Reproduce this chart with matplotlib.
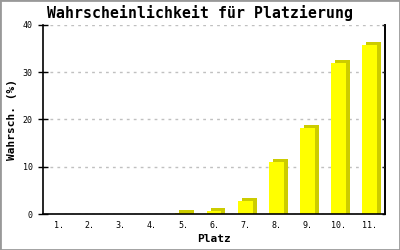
import matplotlib
matplotlib.use("Agg")
import matplotlib.pyplot as plt
import matplotlib.transforms as mtransforms
from matplotlib.patches import Rectangle

# data
places = ["1.", "2.", "3.", "4.", "5.", "6.", "7.", "8.", "9.", "10.", "11."]
probs = [0, 0, 0, 0, 0.2, 0.6, 2.8, 11.0, 18.2, 32.0, 35.8]
y_ticks = [0, 10, 20, 30, 40]

title = "Wahrscheinlichkeit für Platzierung"
y_label = "Wahrsch. (%)"
x_label = "Platz"

front_col = "#ffff00"
side_col = "#cccc00"
mono = "DejaVu Sans Mono"

fig = plt.figure(figsize=(4, 2.5), dpi=100)
ax = fig.add_axes([0.1075, 0.144, 0.855, 0.756])

x = list(range(1, len(places) + 1))
w = 0.48

# 3d look: a darker copy shifted right/up behind the front bar
shift = ax.transData + mtransforms.ScaledTranslation(4 / 100, 3 / 100, fig.dpi_scale_trans)
low = 0.64  # about 3 px, so the side reaches the axis
for xi, v in zip(x, probs):
    if v <= 0:
        continue
    ax.bar(xi, v + low, bottom=-low, width=w, color=side_col, transform=shift,
           zorder=2, clip_on=False)
ax.bar(x, probs, width=w, color=front_col, zorder=3)

ax.set_xlim(0.5, len(places) + 0.5)
ax.set_ylim(0, 40)
ax.set_xticks(x)
ax.set_xticklabels(places, family=mono, fontsize=6)
ax.set_yticks(y_ticks)
ax.set_yticklabels([str(t) for t in y_ticks], family=mono, fontsize=6)
ax.tick_params(axis="x", length=0, pad=5)
ax.tick_params(axis="y", direction="inout", length=7, width=1, pad=4)
ax.yaxis.grid(True, color="#c0c0c0", linestyle=(0, (2, 3)), linewidth=1)
ax.set_axisbelow(True)

# short inward ticks on the right axis
sec = ax.secondary_yaxis("right")
sec.set_yticks(y_ticks)
sec.tick_params(direction="in", length=2.5, width=1, labelright=False)
sec.spines["right"].set_linewidth(1.2)

for s in ["left", "right", "bottom"]:
    ax.spines[s].set_color("black")
    ax.spines[s].set_linewidth(1.2)
    ax.spines[s].set_zorder(5)
ax.spines["top"].set_visible(False)

fig.text(0.5, 0.948, title, ha="center", va="center", family=mono,
         fontweight="bold", fontsize=10.7)
ax.set_ylabel(y_label, family=mono, fontweight="bold", fontsize=8, labelpad=4)
ax.set_xlabel(x_label, family=mono, fontweight="bold", fontsize=8, labelpad=3)

fig.patches.append(Rectangle((0, 0), 1, 1, transform=fig.transFigure,
                             fill=False, edgecolor="#999999", linewidth=2))

fig.savefig("out.png", dpi=100)
